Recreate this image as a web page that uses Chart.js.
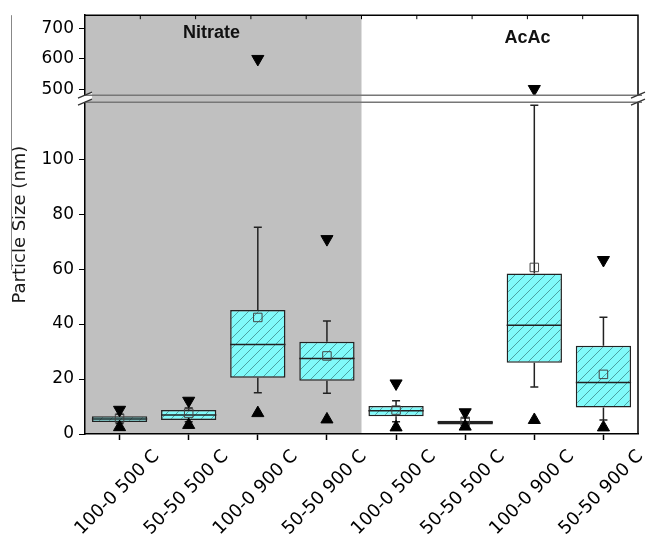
<!DOCTYPE html>
<html lang="en">
<head>
<meta charset="UTF-8">
<title>Particle Size</title>
<script src="https://cdn.jsdelivr.net/npm/chart.js"></script>
<style>
    html, body { margin: 0; padding: 0; background: #fff; }
    #wrap { width: 646px; height: 534px; }
</style>
</head>
<body>
<div id="wrap"><canvas id="chart"></canvas></div>
<script>
// categories: first four are Nitrate, last four AcAc
const categories = ["100-0 500 C", "50-50 500 C", "100-0 900 C", "50-50 900 C",
                    "100-0 500 C", "50-50 500 C", "100-0 900 C", "50-50 900 C"];
const groups = ["Nitrate", "AcAc"];
const groupSize = 4;

const q1      = [4.4, 5.1, 20.5, 19.4, 6.5, 3.5, 25.9, 9.6];
const q3      = [6.5, 8.7, 45.1, 33.6, 10.2, 4.8, 58.4, 32.1];
const median  = [5.5, 6.9, 32.6, 27.5, 8.5, 4.2, 39.6, 18.7];
const mean    = [5.7, 7.6, 42.4, 28.4, 8.7, 4.6, 60.6, 21.7];
const whiskLo = [3.8, 4.5, 15.0, 14.8, 4.5, 3.2, 17.1, 5.1];
const whiskHi = [7.2, 9.5, 75.2, 41.1, 12.1, 5.8, 119.6, 42.5];
const maxVals = [8.8, 12.1, 600, 70.9, 18.4, 7.9, 502, 63.3];
const minVals = [2.5, 3.3, 7.6, 5.3, 2.4, 2.7, 5.1, 2.4];

// broken axis ranges
const lowRange = [0, 122];
const highRange = [470.5, 742.6];

const maxLow = maxVals.map(v => v <= lowRange[1] ? v : null);
const maxHigh = maxVals.map(v => v > lowRange[1] ? v : null);

const makeHatch = () => {
    const c = document.createElement("canvas");
    c.width = 10; c.height = 10;
    const g = c.getContext("2d");
    g.fillStyle = "#80fafa";
    g.fillRect(0, 0, 10, 10);
    g.strokeStyle = "#3f8c8c";
    g.lineWidth = 0.8;
    g.beginPath();
    g.moveTo(0, 10); g.lineTo(10, 0);
    g.moveTo(-1, 1); g.lineTo(1, -1);
    g.moveTo(9, 11); g.lineTo(11, 9);
    g.stroke();
    return g.createPattern(c, "repeat");
};

const tickFont = { family: "DejaVu Sans", size: 17 };

const boxExtras = {
    id: "boxExtras",
    beforeDraw(chart) {
        const { ctx, chartArea: a, scales } = chart;
        const splitX = scales.x.getPixelForValue(groupSize - 0.5);
        ctx.save();
        ctx.fillStyle = "#c0c0c0";
        ctx.fillRect(a.left, a.top, splitX - a.left, a.bottom - a.top);
        ctx.restore();
    },
    beforeDatasetsDraw(chart) {
        const { ctx, scales } = chart;
        const y = scales.y;
        ctx.save();
        ctx.strokeStyle = "#222";
        ctx.lineWidth = 1.5;
        categories.forEach((c, i) => {
            const x = scales.x.getPixelForValue(i);
            ctx.beginPath();
            ctx.moveTo(x, y.getPixelForValue(q3[i]));
            ctx.lineTo(x, y.getPixelForValue(whiskHi[i]));
            ctx.moveTo(x, y.getPixelForValue(q1[i]));
            ctx.lineTo(x, y.getPixelForValue(whiskLo[i]));
            ctx.moveTo(x - 4, y.getPixelForValue(whiskHi[i]));
            ctx.lineTo(x + 4, y.getPixelForValue(whiskHi[i]));
            ctx.moveTo(x - 4, y.getPixelForValue(whiskLo[i]));
            ctx.lineTo(x + 4, y.getPixelForValue(whiskLo[i]));
            ctx.stroke();
        });
        ctx.restore();
    },
    afterDatasetDraw(chart, args) {
        if (args.meta.type !== "bar") return;
        const { ctx, scales } = chart;
        ctx.save();
        ctx.strokeStyle = "#222";
        ctx.lineWidth = 1.5;
        args.meta.data.forEach((bar, i) => {
            const yy = scales.y.getPixelForValue(median[i]);
            ctx.beginPath();
            ctx.moveTo(bar.x - bar.width / 2, yy);
            ctx.lineTo(bar.x + bar.width / 2, yy);
            ctx.stroke();
        });
        ctx.restore();
    },
    afterDraw(chart) {
        const { ctx, chartArea: a, scales } = chart;
        ctx.save();
        // frame: top and right
        ctx.strokeStyle = "#000";
        ctx.lineWidth = 1.5;
        ctx.beginPath();
        ctx.moveTo(a.left, a.top);
        ctx.lineTo(a.right, a.top);
        ctx.lineTo(a.right, a.bottom);
        ctx.stroke();
        // top inward ticks
        ctx.lineWidth = 1;
        for (let k = 1; k < 10; k++) {
            const tx = a.left + (a.right - a.left) * k / 10;
            ctx.beginPath();
            ctx.moveTo(tx, a.top);
            ctx.lineTo(tx, a.top + 4);
            ctx.stroke();
        }
        // axis break
        const by = scales.y.top;
        const y1 = by - 3.5, y2 = by + 3.5;
        [a.left, a.right].forEach(ax => {
            ctx.fillStyle = "#fff";
            ctx.beginPath();
            ctx.moveTo(ax - 7, y1 + 3);
            ctx.lineTo(ax + 7, y1 - 3);
            ctx.lineTo(ax + 7, y2 - 3);
            ctx.lineTo(ax - 7, y2 + 3);
            ctx.closePath();
            ctx.fill();
        });
        ctx.strokeStyle = "#777";
        ctx.lineWidth = 1.5;
        ctx.beginPath();
        ctx.moveTo(a.left, y1); ctx.lineTo(a.right + 4, y1);
        ctx.moveTo(a.left, y2); ctx.lineTo(a.right + 4, y2);
        ctx.stroke();
        ctx.strokeStyle = "#333";
        ctx.lineWidth = 1.2;
        [a.left, a.right].forEach(ax => {
            ctx.beginPath();
            ctx.moveTo(ax - 7, y1 + 3); ctx.lineTo(ax + 7, y1 - 3);
            ctx.moveTo(ax - 7, y2 + 3); ctx.lineTo(ax + 7, y2 - 3);
            ctx.stroke();
        });
        // group labels
        ctx.fillStyle = "#111";
        ctx.font = "bold 18px 'Liberation Sans'";
        ctx.textAlign = "center";
        ctx.textBaseline = "middle";
        ctx.fillText(groups[0], scales.x.getPixelForValue(1.33), scales.yTop.getPixelForValue(683));
        ctx.fillText(groups[1], scales.x.getPixelForValue(5.9), scales.yTop.getPixelForValue(667));
        // y title
        ctx.fillStyle = "#1a1a1a";
        ctx.font = "18px 'DejaVu Sans'";
        ctx.translate(20, (a.top + a.bottom) / 2);
        ctx.rotate(-Math.PI / 2);
        ctx.fillText("Particle Size (nm)", 0, 0);
        ctx.restore();
        // thin gray line at far left
        ctx.save();
        ctx.strokeStyle = "#888";
        ctx.lineWidth = 1;
        ctx.beginPath();
        ctx.moveTo(11.5, a.top);
        ctx.lineTo(11.5, 270);
        ctx.stroke();
        ctx.restore();
    }
};

const tri = (data, axis, rotation) => ({
    type: "line",
    data: data,
    yAxisID: axis,
    showLine: false,
    pointStyle: "triangle",
    rotation: rotation,
    pointRadius: 7,
    pointHoverRadius: 7,
    backgroundColor: "#000",
    borderColor: "#000",
    borderWidth: 1
});

new Chart(document.getElementById("chart"), {
    type: "bar",
    data: {
        labels: categories,
        datasets: [
            tri(maxLow, "y", 180),
            tri(maxHigh, "yTop", 180),
            tri(minVals, "y", 0),
            {
                type: "line",
                data: mean,
                yAxisID: "y",
                showLine: false,
                pointStyle: "rect",
                pointRadius: 6,
                backgroundColor: "rgba(0,0,0,0)",
                borderColor: "#444",
                borderWidth: 1
            },
            {
                type: "bar",
                data: q1.map((v, i) => [v, q3[i]]),
                yAxisID: "y",
                backgroundColor: makeHatch(),
                borderColor: "#222",
                borderWidth: 1.5,
                borderSkipped: false,
                barPercentage: 0.8,
                categoryPercentage: 1
            }
        ]
    },
    options: {
        responsive: true,
        maintainAspectRatio: false,
        animation: false,
        layout: { padding: { top: 15, right: 8, left: 0, bottom: 0 } },
        plugins: { legend: { display: false }, tooltip: { enabled: false } },
        scales: {
            x: {
                type: "category",
                offset: true,
                grid: { offset: false, drawOnChartArea: false, tickLength: 6, color: "#000", tickWidth: 1.5 },
                border: { color: "#000", width: 1.5 },
                ticks: {
                    autoSkip: false, minRotation: 45, maxRotation: 45,
                    color: "#000", font: { family: "DejaVu Sans", size: 18 },
                    labelOffset: 37, padding: 6
                },
                afterFit: s => { s.height = 100; }
            },
            y: {
                type: "linear",
                position: "left",
                stack: "v",
                stackWeight: 335.5,
                min: lowRange[0], max: lowRange[1],
                grid: {
                    drawOnChartArea: false, tickLength: 6,
                    tickColor: ctx => ctx.tick && ctx.tick.value > 110 ? "rgba(0,0,0,0)" : "#000"
                },
                border: { color: "#000", width: 1.5 },
                ticks: {
                    stepSize: 10, includeBounds: false, color: "#000", font: tickFont, padding: 5,
                    callback: v => (v % 20 === 0 && v <= 100) ? v : ""
                },
                afterFit: s => { s.width = 85; }
            },
            yTop: {
                type: "linear",
                position: "left",
                stack: "v",
                stackWeight: 83.5,
                min: highRange[0], max: highRange[1],
                grid: { drawOnChartArea: false, tickLength: 6, color: "#000" },
                border: { color: "#000", width: 1.5 },
                ticks: {
                    stepSize: 50, includeBounds: false, color: "#000", font: tickFont, padding: 5,
                    callback: v => v % 100 === 0 ? v : ""
                },
                afterFit: s => { s.width = 85; }
            }
        }
    },
    plugins: [boxExtras]
});
</script>
</body>
</html>
